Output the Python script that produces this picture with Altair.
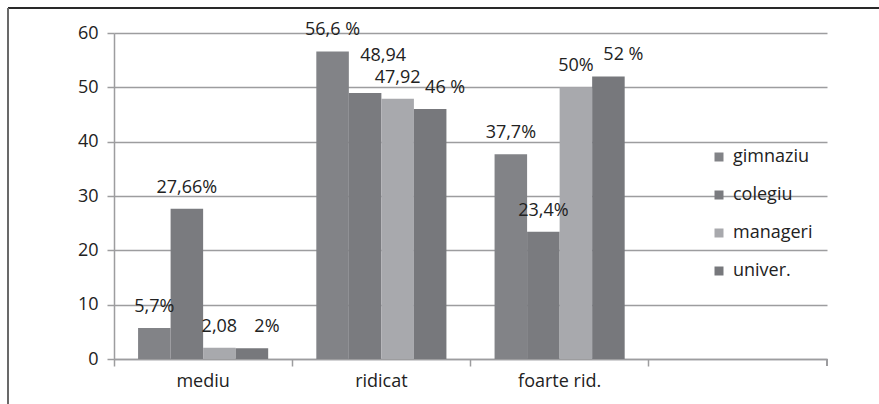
import altair as alt
import pandas as pd

categories = ["mediu", "ridicat", "foarte rid."]
x_domain = categories + [" "]
series = ["gimnaziu", "colegiu", "manageri", "univer."]
colors = ["#828387", "#7a7b7f", "#a8a9ad", "#77787c"]

gimnaziu = [5.7, 56.6, 37.7]
colegiu = [27.66, 48.94, 23.4]
manageri = [2.08, 47.92, 50]
univer = [2, 46, 52]

gimnaziu_lbl = ["5,7%", "56,6 %", "37,7%"]
colegiu_lbl = ["27,66%", "48,94", "23,4%"]
manageri_lbl = ["2,08", "47,92", "50%"]
univer_lbl = ["2%", "46 %", "52 %"]

rows = []
for s, vals, lbls in zip(series, [gimnaziu, colegiu, manageri, univer],
                         [gimnaziu_lbl, colegiu_lbl, manageri_lbl, univer_lbl]):
    for c, v, l in zip(categories, vals, lbls):
        rows.append({"cat": c, "serie": s, "val": v, "lbl": l})
df = pd.DataFrame(rows)

FONT = "Open Sans"
FS = 18
GRID = "#9d9d9f"

x_enc = alt.X("cat:N", scale=alt.Scale(domain=x_domain, paddingInner=0, paddingOuter=0),
              sort=x_domain,
              axis=alt.Axis(title=None, bandPosition=0, labelAngle=0,
                            labelFont=FONT, labelFontSize=FS, labelColor="#222",
                            labelPadding=6, tickSize=7, tickColor=GRID, tickWidth=1.5,
                            domainColor=GRID, domainWidth=1.5, grid=False,
                            labelExpr="datum.value == ' ' ? '' : datum.value"))
xoff = alt.XOffset("serie:N", sort=series,
                   scale=alt.Scale(domain=series, paddingInner=0, paddingOuter=0.74))
y_enc = alt.Y("val:Q", scale=alt.Scale(domain=[0, 60]),
              axis=alt.Axis(title=None, values=[0, 10, 20, 30, 40, 50, 60],
                            labelFont=FONT, labelFontSize=FS, labelColor="#222",
                            labelPadding=9, tickSize=7, tickColor=GRID, tickWidth=1.5,
                            domainColor=GRID, domainWidth=1.5,
                            gridColor=GRID, gridWidth=1.5))

base = alt.Chart(df).encode(x=x_enc, xOffset=xoff, y=y_enc)

bars = base.mark_bar(stroke=None).encode(
    color=alt.Color("serie:N", sort=series,
                    scale=alt.Scale(domain=series, range=colors),
                    legend=alt.Legend(title=None, orient="none", legendX=596, legendY=115,
                                      symbolType="square", symbolSize=81,
                                      symbolStrokeWidth=0, labelFont=FONT,
                                      labelFontSize=FS, labelColor="#222",
                                      rowPadding=20, labelOffset=5))
)

txt_style = dict(font=FONT, fontSize=FS, color="#222", baseline="middle")
lbl_main = base.transform_filter(
    "datum.serie != 'univer.' && !(datum.serie == 'colegiu' && datum.cat == 'ridicat')"
).mark_text(dy=-21, **txt_style).encode(text="lbl:N")
lbl_univ = base.transform_filter("datum.serie == 'univer.'").mark_text(
    dx=15, dy=-21, **txt_style).encode(text="lbl:N")
lbl_col = base.transform_filter("datum.serie == 'colegiu' && datum.cat == 'ridicat'").mark_text(
    dx=18, dy=-37, **txt_style).encode(text="lbl:N")

end_tick = alt.Chart(df).mark_rule(color=GRID, strokeWidth=1.5).encode(
    x=alt.value(713), y=alt.value(326), y2=alt.value(333))
frame_top = alt.Chart(df).mark_rule(color="#2a2a2a", strokeWidth=1.5).encode(
    x=alt.value(-106), x2=alt.value(765), y=alt.value(-25))
frame_left = alt.Chart(df).mark_rule(color="#6a6a6a", strokeWidth=1.5).encode(
    x=alt.value(-106), y=alt.value(-25), y2=alt.value(371))

chart = alt.layer(bars, lbl_main, lbl_univ, lbl_col, end_tick, frame_top, frame_left).properties(
    width=713, height=326,
    autosize=alt.AutoSizeParams(type="none"),
    padding={"left": 114, "top": 33, "right": 52, "bottom": 45},
    background="white",
).configure_view(stroke=None)

chart.save("out.html", embed_options={"renderer": "svg", "actions": False})
